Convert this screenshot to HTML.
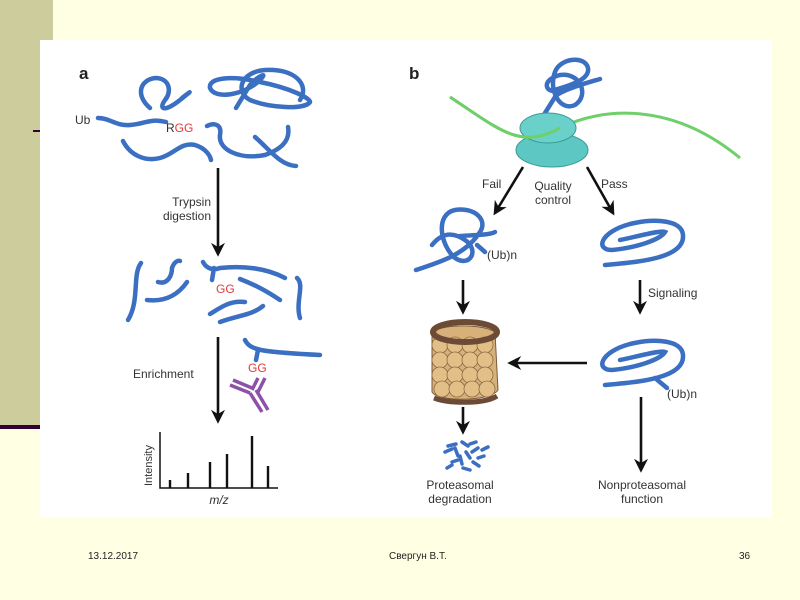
<!DOCTYPE html>
<html><head><meta charset="utf-8"><style>
body{margin:0;width:800px;height:600px;background:#FFFFE3;position:relative;overflow:hidden;font-family:"Liberation Sans",sans-serif}
.side{position:absolute;left:0;top:0;width:53px;height:425px;background:#CCCC9C}
.line{position:absolute;left:0;top:425px;width:40px;height:4px;background:#330033}
.dash{position:absolute;left:33px;top:130px;width:8px;height:2px;background:#330033}
.img{position:absolute;left:40px;top:40px;width:732px;height:478px;background:#fff}
.f{position:absolute;top:551px;font-size:10px;color:#222}
</style></head><body>
<div class="side"></div><div class="line"></div><div class="dash"></div>
<div class="img"></div>
<svg width="800" height="600" style="position:absolute;left:0;top:0" font-family="Liberation Sans, sans-serif">
<defs>
<marker id="ah2" viewBox="0 0 10 10" markerWidth="14" markerHeight="14" refX="8" refY="5" orient="auto" markerUnits="userSpaceOnUse"><path d="M0,0 L10,5 L0,10 L3,5z" fill="#111"/></marker></defs>
<g fill="none" stroke="#3b6fc2" stroke-width="4.5" stroke-linecap="round">
<path d="M150,108 C135,95 140,80 155,78 C170,78 172,92 165,100 C158,110 165,112 180,100 C195,88 190,92 182,98"/>
<path d="M236,108 L250,85 C255,78 270,70 260,80 C245,95 215,100 210,88 C208,78 230,75 260,82 C290,88 310,98 310,102 C305,110 270,108 250,100 C235,92 240,72 265,70 C295,68 310,85 300,100"/>
<path d="M98,118 C110,118 115,126 130,125 C145,124 150,118 166,122"/>
<path d="M207,126 C215,122 222,125 220,135 C218,150 240,160 265,155 C285,148 290,138 288,127 M255,137 C270,150 280,165 296,166"/>
<path d="M123,141 C130,155 145,162 160,158 C175,154 180,142 195,145 C205,148 210,155 211,160"/>
<path d="M141,263 C132,275 140,300 128,320"/><path d="M158,282 C168,285 172,275 172,268 C174,262 178,260 180,261"/>
<path d="M203,262 C207,270 215,270 220,268 C250,265 270,270 285,278 M214,268 L212,280"/>
<path d="M147,300 C165,302 178,295 187,282"/><path d="M210,314 C220,308 230,300 245,302"/>
<path d="M240,279 C255,285 265,290 280,300"/><path d="M220,322 C240,315 252,315 263,306"/><path d="M297,278 C305,285 295,302 300,318"/>
<path d="M245,340 C250,350 260,352 320,355 M258,350 L256,360"/>
<path d="M545,113 L555,97 C560,90 590,82 600,79 M560,90 C545,95 540,80 560,75 C580,72 590,95 575,105 C560,112 548,90 555,72 C560,58 585,55 588,68 C590,80 570,85 555,90"/>
<path d="M416,270 C440,262 465,255 480,232 C488,220 475,207 455,210 C435,214 440,245 455,258 C470,268 480,250 465,240 C450,230 440,235 432,245 M460,236 C475,235 490,235 495,232 M477,245 L485,252"/>
<path d="M605,265 C640,262 685,258 683,235 C682,220 655,218 630,224 C600,232 595,250 612,250 C635,248 660,240 665,232 C660,230 640,236 620,240"/>
<path d="M605,385 C640,382 685,378 683,355 C682,340 655,338 630,344 C600,352 595,370 612,370 C635,368 660,360 665,352 C660,350 640,356 620,360 M655,378 L667,388"/>
<g stroke-width="3.5"><path d="M448,446 L456,444 M445,452 L452,449 M455,448 L458,456 M462,442 L468,446 M470,444 L476,442 M466,452 L470,458 M452,462 L458,460 M460,456 L462,464 M472,452 L478,448 M478,458 L484,456 M463,468 L470,470 M473,462 L479,466 M482,450 L488,447 M447,468 L452,465"/></g>
</g>
<path d="M450,97 C500,130 520,150 560,128 C600,108 670,100 740,158" fill="none" stroke="#6fcf6a" stroke-width="3"/>
<ellipse cx="552" cy="150" rx="36" ry="17" fill="#5cc7c3" stroke="#3a9a95"/>
<ellipse cx="548" cy="128" rx="28" ry="15" fill="#6ad0ca" stroke="#3a9a95"/>
<path d="M450,97 C500,130 520,150 560,128" fill="none" stroke="#6fcf6a" stroke-width="3"/>
<g stroke="#8d52a8" stroke-width="3.5" fill="none"><path d="M230,385 L250,393 M233,380 L252,388 M250,393 L262,412 M256,390 L268,410 M252,390 L258,378 M258,392 L265,378"/></g>
<g>
<path d="M432,335 C430,325 480,322 495,332 L498,390 C490,402 438,402 432,392z" fill="#d8b07a" stroke="#7a5a3a"/>
<g fill="#e3bf88" stroke="#8a6a44" stroke-width="0.8">
<circle cx="440" cy="345" r="8"/><circle cx="455" cy="345" r="8"/><circle cx="470" cy="345" r="8"/><circle cx="485" cy="345" r="8"/>
<circle cx="440" cy="360" r="8"/><circle cx="455" cy="360" r="8"/><circle cx="470" cy="360" r="8"/><circle cx="485" cy="360" r="8"/>
<circle cx="440" cy="375" r="8"/><circle cx="455" cy="375" r="8"/><circle cx="470" cy="375" r="8"/><circle cx="485" cy="375" r="8"/>
<circle cx="442" cy="389" r="8"/><circle cx="457" cy="389" r="8"/><circle cx="472" cy="389" r="8"/><circle cx="487" cy="389" r="8"/></g>
<ellipse cx="465" cy="332" rx="32" ry="10" fill="none" stroke="#6b4a36" stroke-width="6"/>
<path d="M434,398 C450,404 485,404 497,396" fill="none" stroke="#6b4a36" stroke-width="5"/>
</g>
<g stroke="#111" stroke-width="2.6" fill="none">
<line x1="218" y1="168" x2="218" y2="254" marker-end="url(#ah2)"/>
<line x1="218" y1="337" x2="218" y2="421" marker-end="url(#ah2)"/>
<line x1="523" y1="167" x2="495" y2="213" marker-end="url(#ah2)"/>
<line x1="587" y1="167" x2="613" y2="213" marker-end="url(#ah2)"/>
<line x1="463" y1="280" x2="463" y2="312" marker-end="url(#ah2)"/>
<line x1="640" y1="280" x2="640" y2="312" marker-end="url(#ah2)"/>
<line x1="587" y1="363" x2="510" y2="363" marker-end="url(#ah2)"/>
<line x1="463" y1="407" x2="463" y2="432" marker-end="url(#ah2)"/>
<line x1="641" y1="397" x2="641" y2="470" marker-end="url(#ah2)"/>
<path d="M160,432 L160,488 L278,488" stroke-width="1.5"/>
<path d="M170,488V480M188,488V473M210,488V462M227,488V454M252,488V436M268,488V466" stroke-width="2.4"/>
</g>
<g font-size="12" fill="#333">
<text x="79" y="79" font-size="17" font-weight="bold" fill="#222">a</text>
<text x="409" y="79" font-size="17" font-weight="bold" fill="#222">b</text>
<text x="75" y="124">Ub</text>
<text x="166" y="132">R<tspan fill="#e23b3b">GG</tspan></text>
<text x="211" y="206" text-anchor="end">Trypsin</text><text x="211" y="220" text-anchor="end">digestion</text>
<text x="216" y="293" fill="#e23b3b">GG</text>
<text x="133" y="378">Enrichment</text>
<text x="248" y="372" fill="#e23b3b">GG</text>
<text transform="translate(152,486) rotate(-90)" font-size="11">Intensity</text>
<text x="219" y="504" font-style="italic" text-anchor="middle">m/z</text>
<text x="482" y="188">Fail</text>
<text x="553" y="190" text-anchor="middle">Quality</text><text x="553" y="204" text-anchor="middle">control</text>
<text x="601" y="188">Pass</text>
<text x="487" y="259">(Ub)n</text>
<text x="648" y="297">Signaling</text>
<text x="667" y="398">(Ub)n</text>
<text x="460" y="489" text-anchor="middle">Proteasomal</text><text x="460" y="503" text-anchor="middle">degradation</text>
<text x="642" y="489" text-anchor="middle">Nonproteasomal</text><text x="642" y="503" text-anchor="middle">function</text>
</g>
</svg>
<div class="f" style="left:88px">13.12.2017</div>
<div class="f" style="left:389px">Свергун В.Т.</div>
<div class="f" style="left:739px">36</div>
</body></html>
